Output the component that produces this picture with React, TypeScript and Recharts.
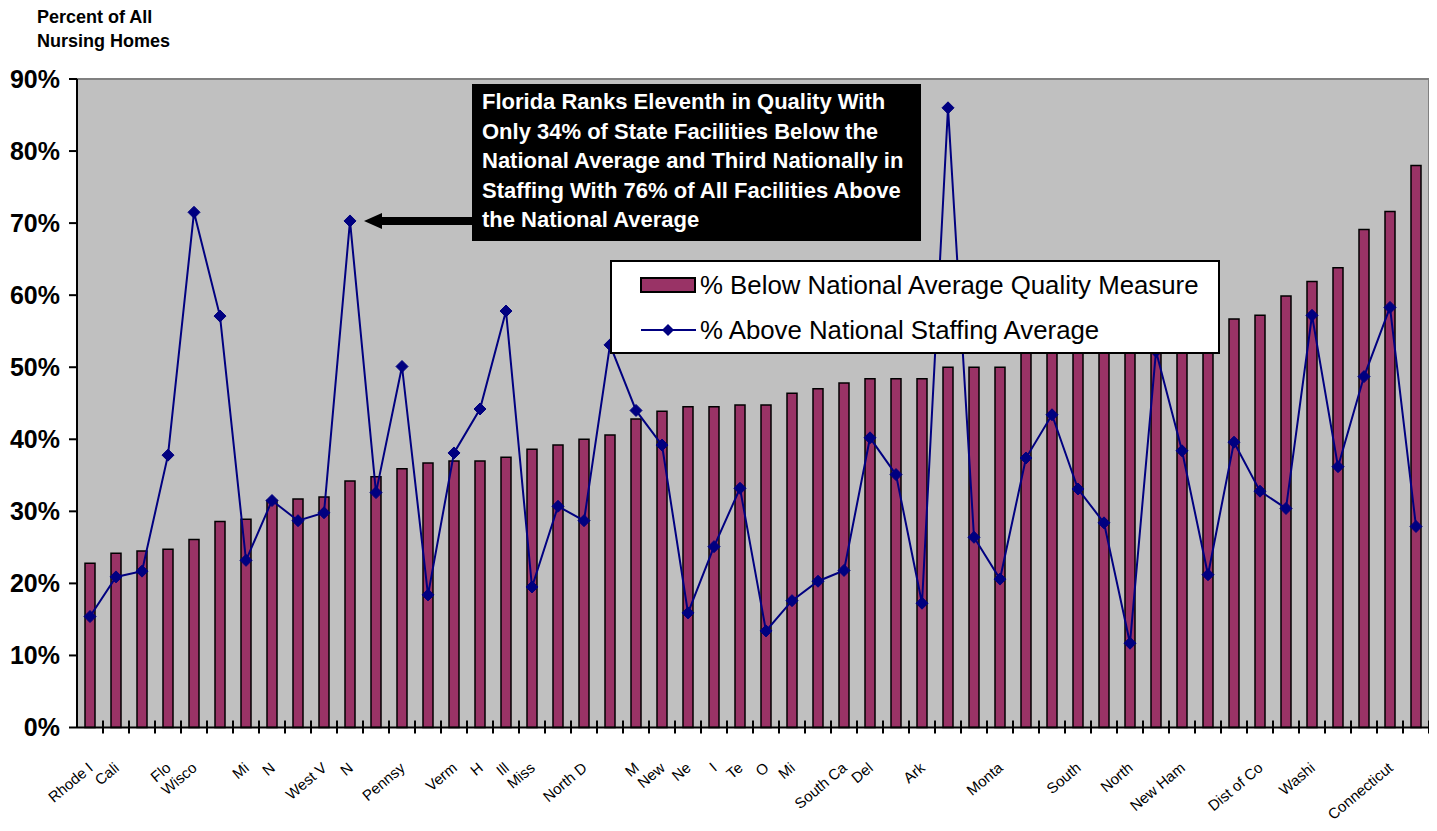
import React from "react";
import {
  ComposedChart,
  Bar,
  Line,
  XAxis,
  YAxis,
  CartesianGrid,
  ReferenceLine,
  Legend,
} from "recharts";

// ---- data ----
const stateLabels: string[] = [
  "Rhode I", "Cali", "", "Flo", "Wisco", "", "Mi", "N", "", "West V",
  "N", "", "Pennsy", "", "Verm", "H", "Ill", "Miss", "", "North D",
  "", "M", "New", "Ne", "I", "Te", "O", "Mi", "", "South Ca",
  "Del", "", "Ark", "", "", "Monta", "", "", "South", "",
  "North", "", "New Ham", "", "", "Dist of Co", "", "Washi", "", "",
  "Connecticut", "",
];

const belowQuality: number[] = [
  22.8, 24.2, 24.5, 24.75, 26.1, 28.6, 28.9, 31.5, 31.7, 32.0,
  34.2, 34.8, 35.9, 36.7, 37.0, 37.0, 37.5, 38.6, 39.2, 40.0,
  40.6, 42.8, 43.9, 44.5, 44.5, 44.75, 44.75, 46.4, 47.0, 47.8,
  48.4, 48.4, 48.4, 50.0, 50.0, 50.0, 52.0, 52.0, 52.1, 52.3,
  52.5, 53.0, 53.5, 54.0, 56.7, 57.2, 59.9, 61.9, 63.8, 69.1,
  71.6, 78.0,
];

const aboveStaffing: number[] = [
  15.4, 20.9, 21.7, 37.8, 71.5, 57.1, 23.2, 31.5, 28.7, 29.8,
  70.3, 32.6, 50.1, 18.4, 38.1, 44.2, 57.8, 19.5, 30.7, 28.7,
  53.1, 44.0, 39.2, 15.9, 25.1, 33.2, 13.4, 17.6, 20.3, 21.8,
  40.2, 35.1, 17.25, 86.0, 26.4, 20.6, 37.4, 43.4, 33.1, 28.4,
  11.7, 52.2, 38.4, 21.2, 39.6, 32.8, 30.4, 57.2, 36.2, 48.7,
  58.3, 27.9,
];

const yTicks: number[] = [0, 10, 20, 30, 40, 50, 60, 70, 80, 90];

const seriesBarName = "% Below National Average Quality Measure";
const seriesLineName = "% Above National Staffing Average";

const yTitleLines: string[] = ["Percent of All", "Nursing Homes"];

const noteLines: string[] = [
  "Florida Ranks Eleventh in Quality With",
  "Only 34% of State Facilities Below the",
  "National Average and Third Nationally in",
  "Staffing With 76% of All Facilities Above",
  "the National Average",
];

const chartData = belowQuality.map((v, i) => ({
  key: `s${i}`,
  below: v,
  above: aboveStaffing[i],
}));

// ---- styles ----
const FONT = "'Liberation Sans', Arial, Helvetica, sans-serif";
const BAR_FILL = "#993366";
const LINE_COLOR = "#000080";

const Diamond = (props: any) => {
  const { cx, cy } = props;
  if (cx == null || cy == null) return null;
  const r = 6;
  return (
    <polygon
      points={`${cx},${cy - r} ${cx + r},${cy} ${cx},${cy + r} ${cx - r},${cy}`}
      fill={LINE_COLOR}
      stroke={LINE_COLOR}
      strokeWidth={1}
    />
  );
};

const XTick = (props: any) => {
  const { x, y, index } = props;
  const lbl = stateLabels[index] || "";
  return (
    <g>
      <line x1={x + 13} x2={x + 13} y1={y - 7} y2={y + 6} stroke="#000" strokeWidth={2} />
      {lbl ? (
        <text
          transform={`translate(${x + 4},${y + 42}) rotate(-40)`}
          textAnchor="end"
          fontSize={15}
          fontFamily={FONT}
          fill="#000"
        >
          {lbl}
        </text>
      ) : null}
    </g>
  );
};

const LegendBox = () => (
  <div
    style={{
      width: 610,
      height: 94,
      boxSizing: "border-box",
      border: "2px solid #000",
      background: "#fff",
      position: "relative",
      fontFamily: FONT,
      color: "#000",
    }}
  >
    <svg width={606} height={90} style={{ position: "absolute", left: 0, top: 0 }}>
      <rect x={29} y={16} width={54} height={14} fill={BAR_FILL} stroke="#000" strokeWidth={2} />
      <line x1={29} x2={84} y1={68} y2={68} stroke={LINE_COLOR} strokeWidth={2} />
      <polygon points="56,62 62,68 56,74 50,68" fill={LINE_COLOR} />
      <text x={88} y={23} dy="0.36em" fontSize={25.8} fontFamily={FONT} fill="#000">
        {seriesBarName}
      </text>
      <text x={88} y={68} dy="0.36em" fontSize={25.8} fontFamily={FONT} fill="#000">
        {seriesLineName}
      </text>
    </svg>
  </div>
);

export default function App() {
  return (
    <div style={{ position: "relative", width: 1429, height: 822 }}>
      <ComposedChart
        width={1429}
        height={822}
        data={chartData}
        margin={{ top: 71, right: 7, left: 0, bottom: 0 }}
      >
        <CartesianGrid fill="#C0C0C0" horizontal={false} vertical={false} />
        <XAxis
          dataKey="key"
          type="category"
          height={102.5}
          interval={0}
          tickSize={0}
          tickMargin={0}
          tickLine={false}
          axisLine={{ stroke: "#000", strokeWidth: 2 }}
          tick={<XTick />}
        />
        <YAxis
          width={69}
          domain={[0, 90]}
          ticks={yTicks}
          interval={0}
          tickSize={8}
          tickMargin={9}
          tickFormatter={(v: number) => `${v}%`}
          axisLine={{ stroke: "#000", strokeWidth: 2 }}
          tickLine={{ stroke: "#000", strokeWidth: 2 }}
          tick={{ fontSize: 25, fontWeight: "bold", fill: "#000", fontFamily: FONT }}
        />
        <YAxis
          yAxisId="right"
          orientation="right"
          width={1}
          domain={[0, 90]}
          tick={false}
          tickLine={false}
          axisLine={{ stroke: "#808080", strokeWidth: 2 }}
        />
        <ReferenceLine y={90} stroke="#808080" strokeWidth={2} />
        <Bar
          dataKey="below"
          name={seriesBarName}
          fill={BAR_FILL}
          stroke="#000"
          strokeWidth={1.5}
          barSize={10}
          isAnimationActive={false}
        />
        <Line
          dataKey="above"
          name={seriesLineName}
          type="linear"
          stroke={LINE_COLOR}
          strokeWidth={2}
          dot={<Diamond />}
          activeDot={false}
          isAnimationActive={false}
        />
        <Legend
          layout="horizontal"
          verticalAlign="middle"
          align="center"
          wrapperStyle={{ left: 602, top: 252, width: 610, height: 94 }}
          content={() => <LegendBox />}
        />
      </ComposedChart>
      <svg
        width={1429}
        height={822}
        style={{ position: "absolute", left: 0, top: 0, pointerEvents: "none" }}
      >
        {yTitleLines.map((t, i) => (
          <text
            key={i}
            x={29}
            y={15 + i * 24}
            textAnchor="start"
            fontSize={18}
            fontWeight="bold"
            fontFamily={FONT}
            fill="#000"
          >
            {t}
          </text>
        ))}
        <rect x={464} y={76} width={449} height={157} fill="#000" />
        {noteLines.map((t, i) => (
          <text
            key={i}
            x={474}
            y={101 + i * 29.5}
            fontSize={22}
            fontWeight="bold"
            fontFamily={FONT}
            fill="#fff"
          >
            {t}
          </text>
        ))}
        <rect x={372} y={209} width={92} height={8} fill="#000" />
        <polygon points="356,213 374,205 374,221" fill="#000" />
      </svg>
    </div>
  );
}
